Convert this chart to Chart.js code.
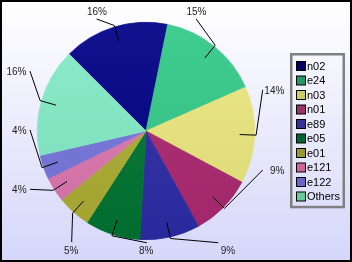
<!DOCTYPE html>
<html><head><meta charset="utf-8">
<script src="https://cdn.jsdelivr.net/npm/chart.js@4/dist/chart.umd.min.js"></script>
<style>html,body{margin:0;padding:0;background:#fff;overflow:hidden}canvas{display:block}</style>
</head><body>
<canvas id="c" width="352" height="262"></canvas>
<script>
// ---- data ----
const categories = ['n02', 'e24', 'n03', 'n01', 'e89', 'e05', 'e01', 'e121', 'e122', 'Others'];
const shares = [15.7, 15.2, 14.4, 9.2, 8.9, 8.2, 5.0, 3.7, 3.6, 16.1];

// ---- styles ----
const legendColors = ['#000066', '#229966', '#CCCC66', '#993366', '#333399', '#006633', '#999933', '#CC6699', '#6666CC', '#66CC99'];
const sliceColors  = ['#000086', '#33C888', '#EAE67E', '#AA2870', '#2C2CA6', '#007432', '#ACAC33', '#DB76AE', '#7575DB', '#82EAC6'];

// ---- label layout (angle clockwise from top in degrees, radius as fraction of pie radius, side of text) ----
const labelAngles = [336.2, 24.1, 70.6, 108.5, 147.1, 179.6, 213.8, 243.3, 270.5, 297.3];
const labelRadii  = [1.126, 1.129, 1.138, 1.132, 1.224, 1.028, 1.229, 1.194, 1.067, 1.201];
const labelSides  = ['top', 'top', 'right', 'right', 'bottomLeft', 'bottom', 'bottom', 'left', 'left', 'left'];

function hexRgb(h) { h = h.replace('#', ''); return [0, 2, 4].map(i => parseInt(h.substr(i, 2), 16)); }
function mix(hex, target, t) {
  const a = hexRgb(hex), b = hexRgb(target);
  const c = a.map((v, i) => Math.round(v + (b[i] - v) * t));
  return 'rgb(' + c.join(',') + ')';
}
function sliceFill(c) {
  const base = sliceColors[c.dataIndex];
  const area = c.chart.chartArea;
  if (!area) return base;
  const g = c.chart.ctx.createLinearGradient(0, area.top, 0, area.bottom);
  g.addColorStop(0, mix(base, '#FFFFFF', 0.07));
  g.addColorStop(1, mix(base, '#000000', 0.06));
  return g;
}

const bgPlugin = {
  id: 'bg',
  beforeDraw(chart) {
    const ctx = chart.ctx, w = chart.width, h = chart.height;
    ctx.save();
    ctx.fillStyle = '#000';
    ctx.fillRect(0, 0, w, h);
    const g = ctx.createLinearGradient(0, 2, 0, h - 2);
    g.addColorStop(0, '#FFFFFF');
    g.addColorStop(1, '#D6D6FA');
    ctx.fillStyle = g;
    ctx.fillRect(2, 2, w - 4, h - 4);
    ctx.restore();
  }
};

const labelPlugin = {
  id: 'sliceLabels',
  afterDatasetsDraw(chart) {
    const ctx = chart.ctx;
    const meta = chart.getDatasetMeta(0);
    const total = shares.reduce((a, b) => a + b, 0);
    ctx.save();
    meta.data.forEach((arc, i) => {
      const p = arc.getProps(['x', 'y', 'startAngle', 'endAngle', 'outerRadius'], true);
      const R = p.outerRadius;
      const mid = (p.startAngle + p.endAngle) / 2;
      const ax = p.x + (R - 15) * Math.cos(mid), ay = p.y + (R - 15) * Math.sin(mid);
      const bx = p.x + (R + 1.5) * Math.cos(mid), by = p.y + (R + 1.5) * Math.sin(mid);
      const la = (labelAngles[i] - 90) * Math.PI / 180;
      const lr = labelRadii[i] * R;
      const cx = p.x + lr * Math.cos(la), cy = p.y + lr * Math.sin(la);
      ctx.strokeStyle = '#000';
      ctx.lineWidth = 1;
      ctx.beginPath();
      ctx.moveTo(ax, ay);
      ctx.lineTo(bx, by);
      ctx.lineTo(cx, cy);
      ctx.stroke();
      const txt = Math.round(shares[i] / total * 100) + '%';
      ctx.fillStyle = '#222';
      ctx.font = '10px "Liberation Sans", Arial, sans-serif';
      const side = labelSides[i];
      if (side === 'top') {
        ctx.textAlign = 'center'; ctx.textBaseline = 'alphabetic';
        ctx.fillText(txt, cx + 0.3, cy - 4);
      } else if (side === 'bottom') {
        ctx.textAlign = 'center'; ctx.textBaseline = 'alphabetic';
        ctx.fillText(txt, cx - 0.5, cy + 11.5);
      } else if (side === 'bottomLeft') {
        ctx.textAlign = 'left'; ctx.textBaseline = 'alphabetic';
        ctx.fillText(txt, cx + 2.4, cy + 11.5);
      } else if (side === 'left') {
        ctx.textAlign = 'right'; ctx.textBaseline = 'middle';
        ctx.fillText(txt, cx - 3.5, cy + 1);
      } else {
        ctx.textAlign = 'right'; ctx.textBaseline = 'middle';
        ctx.fillText(txt, cx + 21.7, cy + 1);
      }
    });
    ctx.restore();
  }
};

const legendPlugin = {
  id: 'boxLegend',
  afterDraw(chart) {
    const ctx = chart.ctx;
    ctx.save();
    ctx.strokeStyle = '#808080';
    ctx.lineWidth = 2.5;
    ctx.strokeRect(291.25, 54.25, 52.5, 152.8);
    ctx.font = '11px "Liberation Sans", Arial, sans-serif';
    ctx.textAlign = 'left';
    ctx.textBaseline = 'middle';
    categories.forEach((name, i) => {
      const y = 61 + i * 14.5;
      ctx.fillStyle = legendColors[i];
      ctx.fillRect(296.5, y + 0.5, 9, 9);
      ctx.strokeStyle = '#000';
      ctx.lineWidth = 1;
      ctx.strokeRect(296.5, y + 0.5, 9, 9);
      ctx.fillStyle = '#000';
      ctx.fillText(name, 307, y + 5.5);
    });
    ctx.restore();
  }
};

new Chart(document.getElementById('c'), {
  type: 'pie',
  data: {
    labels: categories,
    datasets: [{
      data: shares,
      backgroundColor: sliceFill,
      borderColor: sliceFill,
      borderWidth: 0.8,
      hoverOffset: 0,
      offset: 0
    }]
  },
  options: {
    responsive: false,
    devicePixelRatio: 1,
    animation: false,
    events: [],
    rotation: -45,
    layout: { padding: { left: 36.9, right: 96.9, top: 21.9, bottom: 21.9 } },
    plugins: { legend: { display: false }, tooltip: { enabled: false } }
  },
  plugins: [bgPlugin, labelPlugin, legendPlugin]
});
</script>
</body></html>
